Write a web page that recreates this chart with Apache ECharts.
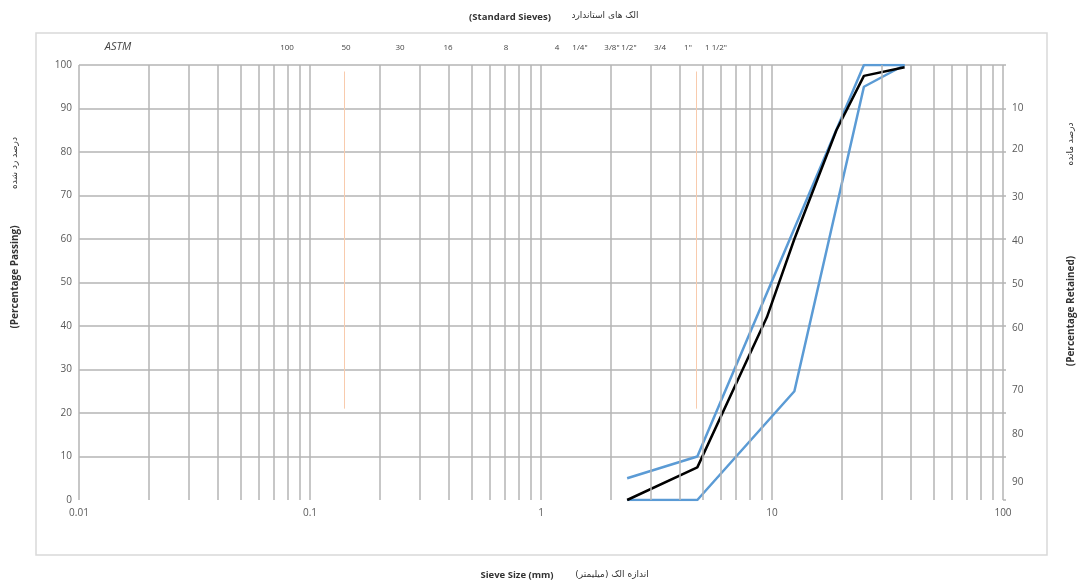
<!DOCTYPE html>
<html><head><meta charset="utf-8">
<script src="https://cdn.jsdelivr.net/npm/echarts@6/dist/echarts.min.js"></script>
<style>html,body{margin:0;padding:0;background:#fff}#c{width:1082px;height:588px}</style>
</head><body><div id="c"></div>
<script>
// ---- data ----
const gradationSize    = [2.36, 4.75, 9.5, 12.5, 19, 25, 37.5];
const gradationPassing = [0, 7.5, 42, 60, 85, 97.5, 99.5];
const upperSize    = [2.36, 4.75, 25, 37.5];
const upperPassing = [5, 10, 100, 100];
const lowerSize    = [2.36, 4.75, 12.5, 25, 37.5];
const lowerPassing = [0, 0, 25, 95, 100];
const refLineSizes = [0.14, 4.7];      // faint orange reference lines
const refLineRange = [21, 98.5];
const minorGridSizes = [0.02,0.03,0.04,0.05,0.06,0.07,0.08,0.09,
                        0.2,0.3,0.4,0.5,0.6,0.7,0.8,0.9,
                        2,3,4,5,6,7,8,9,
                        20,30,40,50,60,70,80,90];
const sieveLabels = ['100','50','30','16','8','4','1/4"','3/8"','1/2"','3/4','1"','1 1/2"'];
const sieveLabelX = [287, 346, 400, 448, 506, 557, 580, 612, 629, 660, 688, 716];
const retainedLabels = ['10','20','30','40','50','60','70','80','90'];
const retainedLabelY = [108, 149, 197, 241, 284, 328, 390, 434, 482];

const pair = (xs, ys) => xs.map((x, i) => [x, ys[i]]);
const gridColor = '#b4b4b4';
const txt = '#595959';
const fontLat = '"Open Sans", "Liberation Sans", sans-serif';
const fontFa = '"DejaVu Sans", "Noto Sans", sans-serif';

const chart = echarts.init(document.getElementById('c'));
const graphics = [
  {type:'rect', shape:{x:36,y:33,width:1011,height:522}, style:{fill:'none', stroke:'#d9d9d9', lineWidth:1.5}, silent:true, z:-10},
  {type:'text', x:510, y:17, style:{text:'(Standard Sieves)', font:'bold 9.5px '+fontLat, fill:'#333', align:'center', verticalAlign:'middle'}},
  {type:'text', x:605, y:16, style:{text:'الک های استاندارد', font:'9px '+fontFa, fill:'#333', align:'center', verticalAlign:'middle'}},
  {type:'text', x:517, y:575, style:{text:'Sieve Size (mm)', font:'bold 9.5px '+fontLat, fill:'#333', align:'center', verticalAlign:'middle'}},
  {type:'text', x:612, y:575, style:{text:'اندازه الک (میلیمتر)', font:'9px '+fontFa, fill:'#333', align:'center', verticalAlign:'middle'}},
  {type:'text', x:15, y:277, rotation:Math.PI/2, style:{text:'(Percentage Passing)', font:'bold 10px '+fontLat, fill:'#333', align:'center', verticalAlign:'middle'}},
  {type:'text', x:15, y:163, rotation:Math.PI/2, style:{text:'درصد رد شده', font:'9px '+fontFa, fill:'#333', align:'center', verticalAlign:'middle'}},
  {type:'text', x:1071, y:311, rotation:Math.PI/2, style:{text:'(Percentage Retained)', font:'bold 10px '+fontLat, fill:'#333', align:'center', verticalAlign:'middle'}},
  {type:'text', x:1071, y:144, rotation:Math.PI/2, style:{text:'درصد مانده', font:'9px '+fontFa, fill:'#333', align:'center', verticalAlign:'middle'}},
  {type:'text', x:118, y:47, style:{text:'ASTM', font:'italic 11px '+fontLat, fill:'#444', align:'center', verticalAlign:'middle'}}
];
sieveLabels.forEach((t, i) => graphics.push({type:'text', x:sieveLabelX[i], y:48,
  style:{text:t, font:'8px '+fontLat, fill:'#444', align:'center', verticalAlign:'middle'}}));
retainedLabels.forEach((t, i) => graphics.push({type:'text', x:1012, y:retainedLabelY[i],
  style:{text:t, font:'10px '+fontLat, fill:txt, align:'left', verticalAlign:'middle'}}));

chart.setOption({
  animation:false,
  backgroundColor:'#fff',
  grid:{left:79, right:79, top:65, bottom:88},
  xAxis:{type:'log', logBase:10, min:0.01, max:100,
    axisLine:{show:false}, axisTick:{show:false},
    axisLabel:{color:txt, fontSize:10, fontFamily:fontLat, margin:8},
    splitLine:{show:true, lineStyle:{color:gridColor, width:1.5}}},
  yAxis:[
    {type:'value', min:0, max:100, interval:10, position:'left',
     axisLine:{show:false}, axisTick:{show:false},
     axisLabel:{color:txt, fontSize:10, fontFamily:fontLat, margin:7},
     splitLine:{show:true, showMinLine:false, lineStyle:{color:gridColor, width:1.5}}},
    {type:'value', min:0, max:100, interval:10, position:'right', inverse:true,
     axisLine:{show:false}, axisTick:{show:true, length:3, lineStyle:{color:gridColor, width:1.5}},
     axisLabel:{show:false}, splitLine:{show:false}}
  ],
  graphic:graphics,
  series:[
    {type:'line', data:[], z:1, silent:true,
     markLine:{silent:true, symbol:'none', animation:false, label:{show:false},
       lineStyle:{color:gridColor, width:1.5, type:'solid'},
       data: minorGridSizes.map(v => ({xAxis:v}))}},
    {type:'line', data:[], z:1, silent:true,
     markLine:{silent:true, symbol:'none', animation:false, label:{show:false},
       lineStyle:{color:'#f8cbad', width:1, type:'solid'},
       data: refLineSizes.map(v => [{coord:[v, refLineRange[1]]},{coord:[v, refLineRange[0]]}])}},
    {name:'Upper', type:'line', data:pair(upperSize, upperPassing), showSymbol:false, z:3,
     lineStyle:{color:'#5b9bd5', width:2.5}},
    {name:'Lower', type:'line', data:pair(lowerSize, lowerPassing), showSymbol:false, z:3,
     lineStyle:{color:'#5b9bd5', width:2.5}},
    {name:'Gradation', type:'line', data:pair(gradationSize, gradationPassing), showSymbol:false, z:4,
     lineStyle:{color:'#000', width:2.5}}
  ]
});
</script></body></html>
